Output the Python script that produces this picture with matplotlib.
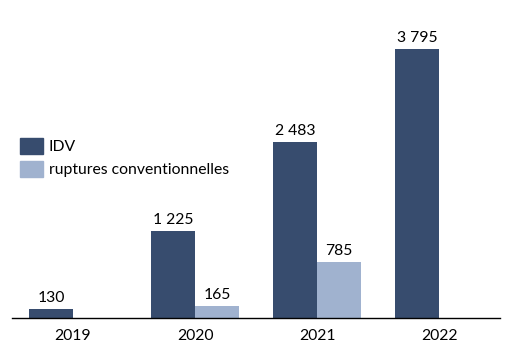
import numpy as np
import matplotlib.pyplot as plt
from matplotlib.patches import Patch

years = ['2019', '2020', '2021', '2022']
idv = [130, 1225, 2483, 3795]
ruptures = [None, 165, 785, None]
idv_lbl = ['130', '1 225', '2 483', '3 795']
rup_lbl = [None, '165', '785', None]

c_idv = '#374C6E'
c_rup = '#A0B2CF'

plt.rcParams['font.family'] = ['Lato', 'DejaVu Sans']
fs = 11.3

fig = plt.figure(figsize=(5.07, 3.57), dpi=100)
ax = fig.add_axes([12/507, 39/357, 488/507, 284/357])

x = np.arange(len(years))
w = 0.36
for i in range(len(years)):
    ax.bar(x[i] - w/2, idv[i], w, color=c_idv)
    ax.text(x[i] - w/2, idv[i] + 55, idv_lbl[i], ha='center', va='bottom', fontsize=fs)
    if ruptures[i] is not None:
        ax.bar(x[i] + w/2, ruptures[i], w, color=c_rup)
        ax.text(x[i] + w/2, ruptures[i] + 55, rup_lbl[i], ha='center', va='bottom', fontsize=fs)

ax.set_xlim(-0.5, 3.5)
ax.set_ylim(0, 4000)
ax.set_xticks(x)
ax.set_xticklabels(years, fontsize=fs)
ax.tick_params(axis='x', length=0, pad=8)
ax.set_yticks([])
for s in ['top', 'right', 'left']:
    ax.spines[s].set_visible(False)
ax.spines['bottom'].set_linewidth(1)

handles = [Patch(color=c_idv, label='IDV'), Patch(color=c_rup, label='ruptures conventionnelles')]
ax.legend(handles=handles, loc='upper left', bbox_to_anchor=(-0.012, 0.685), frameon=False,
          fontsize=fs, handlelength=1.45, handleheight=1.2, handletextpad=0.35, labelspacing=0.45)

plt.savefig('out.png', dpi=100)
